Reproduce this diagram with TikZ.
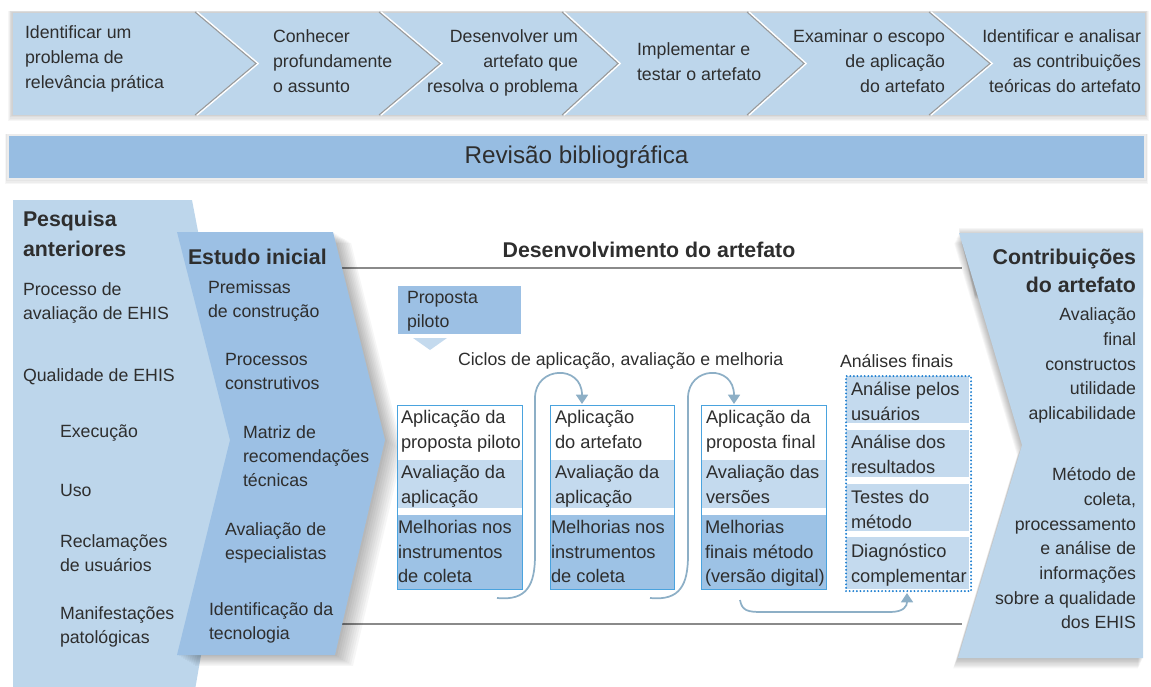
\documentclass[tikz,border=0pt]{standalone}
\usepackage{fontspec}
\setmainfont{Liberation Sans}
\usetikzlibrary{arrows.meta,calc}
\definecolor{lb}{HTML}{BDD6EB}
\definecolor{mb}{HTML}{9CC0E4}
\definecolor{rb}{HTML}{97BDE2}
\definecolor{rl}{HTML}{C4DAEE}
\definecolor{rd}{HTML}{9DC2E5}
\definecolor{bxc}{HTML}{4AA3DE}
\definecolor{arrc}{HTML}{8DAFC6}
\definecolor{dotc}{HTML}{1E7FD0}
\definecolor{tc}{HTML}{2E2E2E}
\definecolor{sepc}{HTML}{9A9A9A}
\definecolor{glc}{HTML}{8A8A8A}
\newcommand\fl{\rule{0pt}{12.5pt}}
\newcommand\flb{\rule{0pt}{13.5pt}}
\tikzset{
  t/.style={inner sep=0pt, outer sep=0pt, align=left, text=tc,
    font=\fontsize{13.3pt}{18pt}\selectfont},
  tr/.style={t, align=right},
  tt/.style={t, font=\fontsize{13.3pt}{18.75pt}\selectfont},
  ttr/.style={tt, align=right},
  tb/.style={t, font=\bfseries\fontsize{16pt}{22.5pt}\selectfont},
  tbr/.style={t, align=right, font=\bfseries\fontsize{16pt}{21pt}\selectfont},
  rt/.style={tr, font=\fontsize{13.3pt}{18.5pt}\selectfont},
  bx/.style={t, font=\fontsize{13.7pt}{18.4pt}\selectfont},
  boxframe/.style={draw=bxc, line width=1.1pt, inner sep=0pt, anchor=north west},
  dotframe/.style={draw=dotc, line width=1.6pt, line cap=round, dash pattern=on 0pt off 2.7pt, inner sep=0pt, anchor=north west},
  cyc/.style={draw=arrc, line width=1.3pt, -{Triangle[width=9pt,length=7pt]}},
  gline/.style={draw=glc, line width=1.6pt},
  sepl/.style={draw=sepc, line width=0.8pt},
  shad/.style={fill=black, opacity=0.035}
}
\begin{document}
\begin{tikzpicture}[x=0.75pt,y=-0.75pt]
\useasboundingbox (0,0) rectangle (1151,686);

% ---------- top chevron bar ----------
\foreach \i in {1,...,5}
  \fill[shad] (12-\i*0.8,12-\i*0.3) rectangle (1145+\i*0.8,115+\i*1.2);
\node[anchor=north west, minimum width=849.75pt, minimum height=77.25pt,
      fill=lb, draw=black!18, inner sep=0pt] (topbar) at (12,12) {};
\foreach \a/\b in {195/256, 379/440, 562/618, 747/804, 929/990} {
  \draw[white, line width=1.2pt] (\a+2,12) -- (\b+2,63.5) -- (\a+2,115);
  \draw[sepl] (\a,12) -- (\b,63.5) -- (\a,115);
}
\node[tt, anchor=north west] (s1) at (25,22) {\fl Identificar um\\problema de\\relevância prática};
\node[tt, anchor=north west] (s2) at (273,26) {\fl Conhecer\\profundamente\\o assunto};
\node[ttr, anchor=north east] (s3) at (578,26) {\fl Desenvolver um\\artefato que\\resolva o problema};
\node[tt, anchor=north west] (s4) at (637,39) {\fl Implementar e\\testar o artefato};
\node[ttr, anchor=north east] (s5) at (945,26) {\fl Examinar o escopo\\de aplicação\\do artefato};
\node[ttr, anchor=north east] (s6) at (1141,26) {\fl Identificar e analisar\\as contribuições\\teóricas do artefato};

% ---------- Revisão bibliográfica ----------
\foreach \i in {1,...,4}
  \fill[shad] (8-\i*0.8,135-\i*0.3) rectangle (1145+\i*0.8,179+\i*1.2);
\node[minimum width=852.75pt, minimum height=33pt, fill=rb, draw=white!85!gray,
      line width=1.2pt, inner sep=0pt, text=tc,
      font=\fontsize{18.2pt}{22pt}\selectfont] (rev) at (576.5,157) {Revisão bibliográfica};

% ---------- left panel: Pesquisa anteriores ----------
\fill[lb] (13,200) -- (192,200) -- (238,440) -- (195,690) -- (13,690) -- cycle;
\node[tb, anchor=north west] (pa) at (23,208) {\flb Pesquisa\\anteriores};
\node[t, anchor=north west] (pa1) at (23,279) {\fl Processo de\\avaliação de EHIS};
\node[t, anchor=north west] (pa2) at (23,365) {\fl Qualidade de EHIS};
\node[t, anchor=north west] (pa3) at (60,421) {\fl Execução};
\node[t, anchor=north west] (pa4) at (60,480) {\fl Uso};
\node[t, anchor=north west] (pa5) at (60,531) {\fl Reclamações\\de usuários};
\node[t, anchor=north west] (pa6) at (60,603) {\fl Manifestações\\patológicas};

% ---------- development frame lines ----------
\draw[gline] (335,268) -- (962,268);
\draw[gline] (335,624) -- (962,624);
\node[tb, anchor=north] (dev) at (649,239) {\flb Desenvolvimento do artefato};

% ---------- Estudo inicial ----------
\foreach \i in {1,...,9}
  \fill[shad, shift={(\i*2,\i*1.2)}] (177,232) -- (333,232) -- (385,440) -- (335,655) -- (177,655) -- (230,440) -- cycle;
\fill[mb] (177,232) -- (333,232) -- (385,440) -- (335,655) -- (177,655) -- (230,440) -- cycle;
\node[tb, anchor=north west] (ei) at (188,246) {\flb Estudo inicial};
\node[t, anchor=north west] (ei1) at (208,277) {\fl Premissas\\de construção};
\node[t, anchor=north west] (ei2) at (225,349) {\fl Processos\\construtivos};
\node[t, anchor=north west] (ei3) at (243,422) {\fl Matriz de\\recomendações\\técnicas};
\node[t, anchor=north west] (ei4) at (225,519) {\fl Avaliação de\\especialistas};
\node[t, anchor=north west] (ei5) at (209,599) {\fl Identificação da\\tecnologia};

% ---------- right panel: Contribuições ----------
\foreach \i in {1,...,8}
  \fill[shad, shift={(-\i*0.6,\i*1.3)}] (959,233) -- (1143,233) -- (1143,658) -- (958,658) -- (1022,445) -- cycle;
\foreach \i in {1,...,5}
  \fill[shad, shift={(0,-\i*1.0)}] (959,233) -- (1143,233) -- (1143,300) -- (975,300) -- cycle;
\fill[lb] (959,233) -- (1143,233) -- (1143,658) -- (958,658) -- (1022,445) -- cycle;
\node[tbr, anchor=north east] (ca) at (1136,246) {\flb Contribuições\\do artefato};
\node[rt, anchor=north east] (ca1) at (1136,304) {\fl Avaliação\\final\\constructos\\utilidade\\aplicabilidade};
\node[rt, anchor=north east] (ca2) at (1136,464) {\fl Método de\\coleta,\\processamento\\e análise de\\informações\\sobre a qualidade\\dos EHIS};

% ---------- Proposta piloto ----------
\node[anchor=north west, fill=mb, minimum width=92.25pt, minimum height=36pt, inner sep=0pt] (prop) at (398,286) {};
\node[t, anchor=north west] (propt) at (407,287) {\fl Proposta\\piloto};
\fill[rl] (413,338) -- (447,338) -- (430,350) -- cycle;
\node[t, anchor=north west] (cic) at (458,349) {\fl Ciclos de aplicação, avaliação e melhoria};

% ---------- cycle boxes ----------
\foreach \x/\w/\n in {397/125/b1, 550/124/b2, 701/125/b3} {
  \fill[white] (\x,405) rectangle (\x+\w,460);
  \fill[rl] (\x,460) rectangle (\x+\w,508);
  \fill[white] (\x,508) rectangle (\x+\w,515);
  \fill[rd] (\x,515) rectangle (\x+\w,589);
  \node[boxframe, minimum width=\w*0.75pt, minimum height=138pt] (\n) at (\x,405) {};
}
\node[bx, anchor=north west] (b1a) at (401,407) {\fl Aplicação da\\proposta piloto};
\node[bx, anchor=north west] (b1b) at (401,462) {\fl Avaliação da\\aplicação};
\node[bx, anchor=north west] (b1c) at (398,517) {\fl Melhorias nos\\instrumentos\\de coleta};
\node[bx, anchor=north west] (b2a) at (555,407) {\fl Aplicação\\do artefato};
\node[bx, anchor=north west] (b2b) at (555,462) {\fl Avaliação da\\aplicação};
\node[bx, anchor=north west] (b2c) at (551,517) {\fl Melhorias nos\\instrumentos\\de coleta};
\node[bx, anchor=north west] (b3a) at (706,407) {\fl Aplicação da\\proposta final};
\node[bx, anchor=north west] (b3b) at (706,462) {\fl Avaliação das\\versões};
\node[bx, anchor=north west] (b3c) at (705,517) {\fl Melhorias\\finais método\\(versão digital)};

% ---------- Análises finais ----------
\node[t, anchor=north west] (aft) at (840,351) {\fl Análises finais};
\fill[rl] (846,376) rectangle (969,423);
\fill[rl] (846,430) rectangle (969,477);
\fill[rl] (846,484) rectangle (969,531);
\fill[rl] (846,537) rectangle (969,589);
\node[dotframe, minimum width=93.75pt, minimum height=161.25pt] (af) at (845,375) {};
\node[bx, anchor=north west] (af1) at (851,379) {\fl Análise pelos\\usuários};
\node[bx, anchor=north west] (af2) at (851,432) {\fl Análise dos\\resultados};
\node[bx, anchor=north west] (af3) at (851,487) {\fl Testes do\\método};
\node[bx, anchor=north west] (af4) at (851,541) {\fl Diagnóstico\\complementar};

% ---------- cycle arrows ----------
\coordinate (c1a) at (497,598);
\coordinate (c1b) at (582,404);
\coordinate (c2a) at (650,598);
\coordinate (c2b) at (734,404);
\coordinate (c3a) at (740,600);
\coordinate (c3b) at (907,593);
\draw[cyc] (c1a) .. controls (527,601) and (535,585) .. (535,555) -- (535,398)
  .. controls (535,366) and (582,364) .. (c1b);
\draw[cyc] (c2a) .. controls (680,601) and (688,585) .. (688,555) -- (688,398)
  .. controls (688,366) and (734,364) .. (c2b);
\draw[cyc] (c3a) .. controls (742,611) and (748,612) .. (762,612) -- (890,612)
  .. controls (904,612) and (907,606) .. (c3b);
\end{tikzpicture}
\end{document}
